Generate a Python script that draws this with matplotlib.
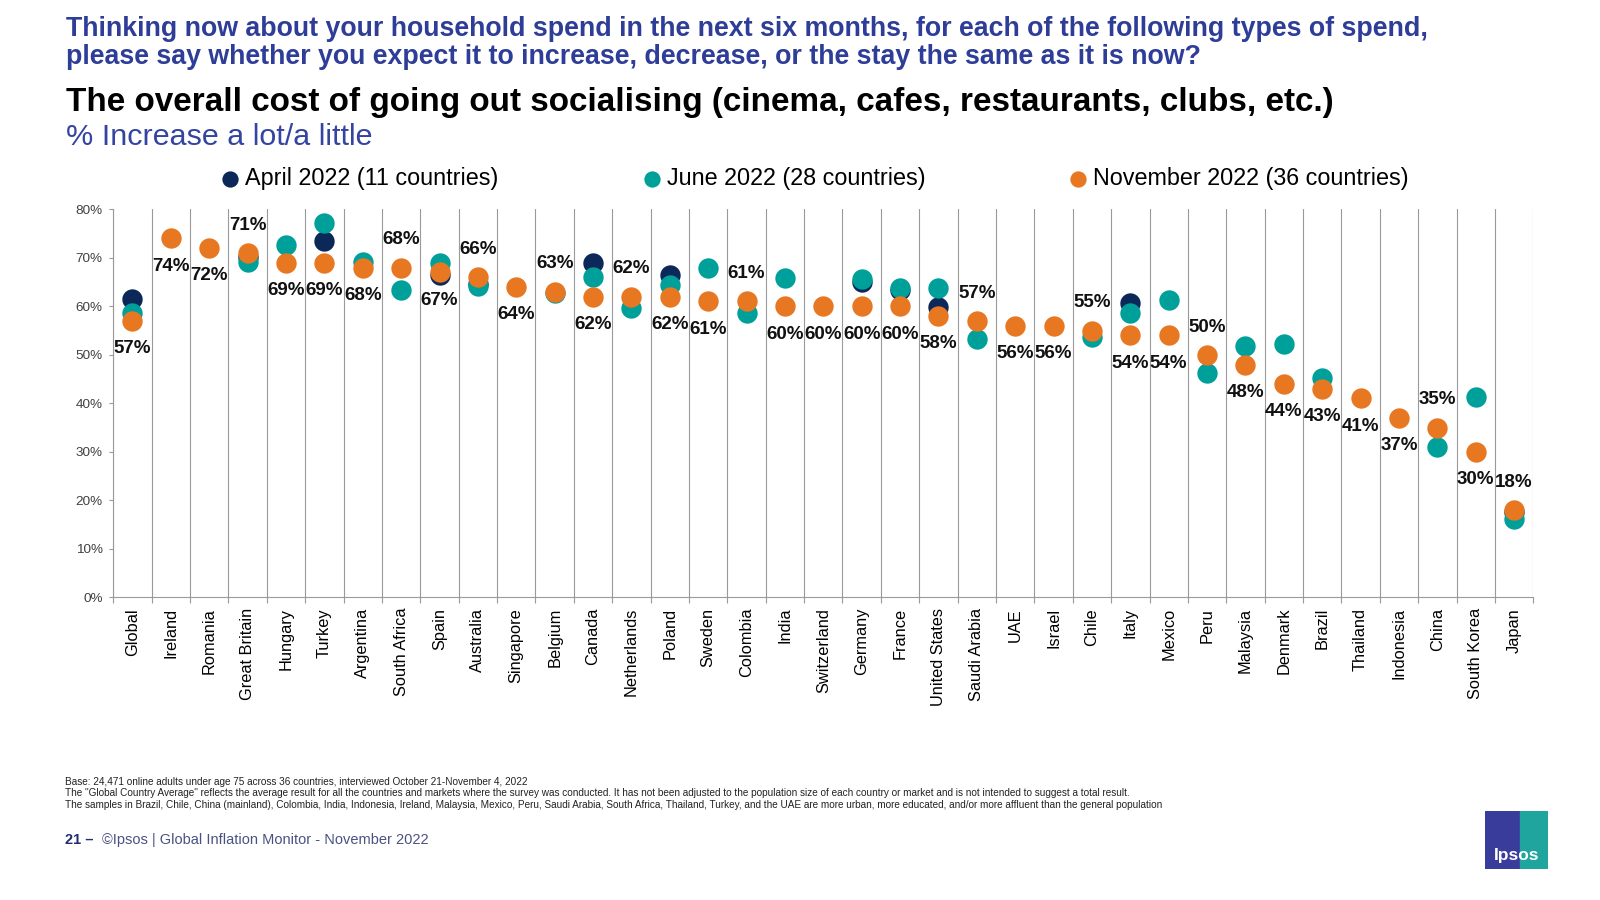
import numpy as np
import matplotlib
matplotlib.use('Agg')
import matplotlib.pyplot as plt
from matplotlib import font_manager
from matplotlib.patches import Rectangle

# data
countries = ['Global', 'Ireland', 'Romania', 'Great Britain', 'Hungary', 'Turkey', 'Argentina',
             'South Africa', 'Spain', 'Australia', 'Singapore', 'Belgium', 'Canada', 'Netherlands',
             'Poland', 'Sweden', 'Colombia', 'India', 'Switzerland', 'Germany', 'France',
             'United States', 'Saudi Arabia', 'UAE', 'Israel', 'Chile', 'Italy', 'Mexico', 'Peru',
             'Malaysia', 'Denmark', 'Brazil', 'Thailand', 'Indonesia', 'China', 'South Korea', 'Japan']
nan = np.nan
apr_2022 = [61.5, nan, nan, 70.2, nan, 73.5, nan, nan, 66.5, 64.5, nan, nan, 68.9, nan,
            66.5, nan, nan, nan, nan, 65.1, 63.3, 59.8, nan, nan, nan, nan, 60.6, nan, nan,
            nan, nan, nan, nan, nan, nan, nan, 17.5]
jun_2022 = [58.6, nan, nan, 69.2, 72.6, 77.2, 69.2, 63.4, 68.9, 64.1, nan, 62.7, 66.1, 59.6,
            64.4, 68.0, 58.6, 65.8, nan, 65.6, 63.7, 63.8, 53.3, nan, nan, 53.6, 58.6, 61.2, 46.2,
            51.9, 52.2, 45.2, nan, nan, 30.9, 41.4, 16.2]
nov_2022 = [57, 74, 72, 71, 69, 69, 68, 68, 67, 66, 64, 63, 62, 62, 62, 61, 61, 60, 60, 60, 60,
            58, 57, 56, 56, 55, 54, 54, 50, 48, 44, 43, 41, 37, 35, 30, 18]
series_names = ['April 2022 (11 countries)', 'June 2022 (28 countries)', 'November 2022 (36 countries)']

# countries whose November label sits above the dot
label_above = ['Great Britain', 'South Africa', 'Australia', 'Belgium', 'Netherlands', 'Colombia',
               'Saudi Arabia', 'Chile', 'Peru', 'China', 'Japan']

NAVY = '#0B2859'
TEAL = '#00A09A'
ORANGE = '#E87722'
GRID = '#9A9A9A'
IPSOS_BLUE = '#2E3D98'

plt.rcParams['font.family'] = ['Liberation Sans', 'DejaVu Sans']
installed = {f.name for f in font_manager.fontManager.ttflist}
narrow = ['Liberation Sans Narrow', 'Liberation Sans'] if 'Liberation Sans Narrow' in installed else ['Liberation Sans']

W, H = 1600, 900
fig = plt.figure(figsize=(16, 9), dpi=100)
ax = fig.add_axes([113.3 / W, 1 - 597.3 / H, (1533.3 - 113.3) / W, (597.3 - 209.3) / H])

x = np.arange(len(countries)) + 0.5
ax.scatter(x, apr_2022, s=215, color=NAVY, linewidths=0, zorder=3, label=series_names[0])
ax.scatter(x, jun_2022, s=215, color=TEAL, linewidths=0, zorder=4, label=series_names[1])
ax.scatter(x, nov_2022, s=215, color=ORANGE, linewidths=0, zorder=5, label=series_names[2])

for xi, v, c in zip(x, nov_2022, countries):
    dy = 20 if c in label_above else -20
    ax.annotate(f'{v}%', (xi, v), xytext=(0, dy), textcoords='offset points',
                ha='center', va='center', fontsize=13.5, fontweight='bold', color='#111111', zorder=6)

ax.set_xlim(0, len(countries))
ax.set_ylim(0, 80)
ax.set_yticks(range(0, 81, 10))
ax.set_yticklabels([f'{v}%' for v in range(0, 81, 10)])
ax.set_xticks(x)
ax.set_xticklabels(countries, rotation=90, fontsize=11.8)
ax.set_xticks(np.arange(len(countries) + 1), minor=True)
ax.tick_params(axis='x', which='major', length=0, pad=7.7)
ax.tick_params(axis='x', which='minor', length=4, color=GRID, width=0.8)
ax.tick_params(axis='y', length=3, color=GRID, width=0.8, pad=4.7, labelsize=9.7, labelcolor='#404040')
ax.grid(True, axis='x', which='minor', color=GRID, linewidth=0.8)
ax.set_axisbelow(True)
for s in ['top', 'right']:
    ax.spines[s].set_visible(False)
for s in ['left', 'bottom']:
    ax.spines[s].set_color(GRID)
    ax.spines[s].set_linewidth(0.8)

ax.legend(loc='center left', bbox_to_anchor=(222 / W, 1 - 178.6 / H), bbox_transform=fig.transFigure,
          ncol=3, frameon=False, fontsize=16.8, markerscale=0.8, handlelength=0.7, handletextpad=0.3,
          columnspacing=6.2, borderpad=0, borderaxespad=0, scatterpoints=1)

renderer = fig.canvas.get_renderer()


def fit_width(t, target_px):
    w = t.get_window_extent(renderer).width
    t.set_fontsize(t.get_fontsize() * target_px / w)
    return t.get_fontsize()


# titles
q1 = fig.text(66 / W, 1 - 28.6 / H, 'Thinking now about your household spend in the next six months, '
              'for each of the following types of spend,', fontsize=16, fontweight='bold',
              color=IPSOS_BLUE, va='center', ha='left')
qsize = fit_width(q1, 1361)
fig.text(66 / W, 1 - 57.5 / H, 'please say whether you expect it to increase, decrease, or the stay the same as it is now?',
         fontsize=qsize, fontweight='bold', color=IPSOS_BLUE, va='center', ha='left')

head = fig.text(66 / W, 1 - 102 / H, 'The overall cost of going out socialising (cinema, cafes, restaurants, clubs, etc.)',
                fontsize=22, fontweight='bold', color='black', va='center', ha='left')
fit_width(head, 1266)
sub = fig.text(66 / W, 1 - 137 / H, '% Increase a lot/a little', fontsize=22, color='#3444A0',
               va='center', ha='left')
fit_width(sub, 306)

# footnotes
notes = ['Base: 24,471 online adults under age 75 across 36 countries, interviewed October 21-November 4, 2022',
         'The "Global Country Average" reflects the average result for all the countries and markets where the survey '
         'was conducted. It has not been adjusted to the population size of each country or market and is not '
         'intended to suggest a total result.',
         'The samples in Brazil, Chile, China (mainland), Colombia, India, Indonesia, Ireland, Malaysia, Mexico, Peru, '
         'Saudi Arabia, South Africa, Thailand, Turkey, and the UAE are more urban, more educated, and/or more '
         'affluent than the general population']
n3 = fig.text(65 / W, 1 - 805 / H, notes[2], fontsize=7, family=narrow, color='#222222', va='center', ha='left')
nsize = fit_width(n3, 1104)
fig.text(65 / W, 1 - 782 / H, notes[0], fontsize=nsize, family=narrow, color='#222222', va='center', ha='left')
fig.text(65 / W, 1 - 793.5 / H, notes[1], fontsize=nsize, family=narrow, color='#222222', va='center', ha='left')

pg = fig.text(65 / W, 1 - 840 / H, '21 \u2013', fontsize=10.5, fontweight='bold', color='#1F2E6E',
              va='center', ha='left')
pw = pg.get_window_extent(renderer).width
fig.text((65 + pw + 9) / W, 1 - 840 / H, '\u00a9Ipsos | Global Inflation Monitor - November 2022',
         fontsize=10.5, family=narrow, color='#4A5282', va='center', ha='left')

# Ipsos logo
lax = fig.add_axes([1485 / W, 1 - 869 / H, 63 / W, 58 / H])
lax.set_xlim(0, 1)
lax.set_ylim(0, 1)
lax.axis('off')
lax.add_patch(Rectangle((0, 0), 0.55, 1, color='#3A3C9C'))
lax.add_patch(Rectangle((0.55, 0), 0.45, 1, color='#1FA59E'))
lax.text(0.5, 0.24, 'Ipsos', color='white', fontweight='bold', fontsize=12.5, ha='center', va='center')

fig.savefig('out.png', dpi=100)
